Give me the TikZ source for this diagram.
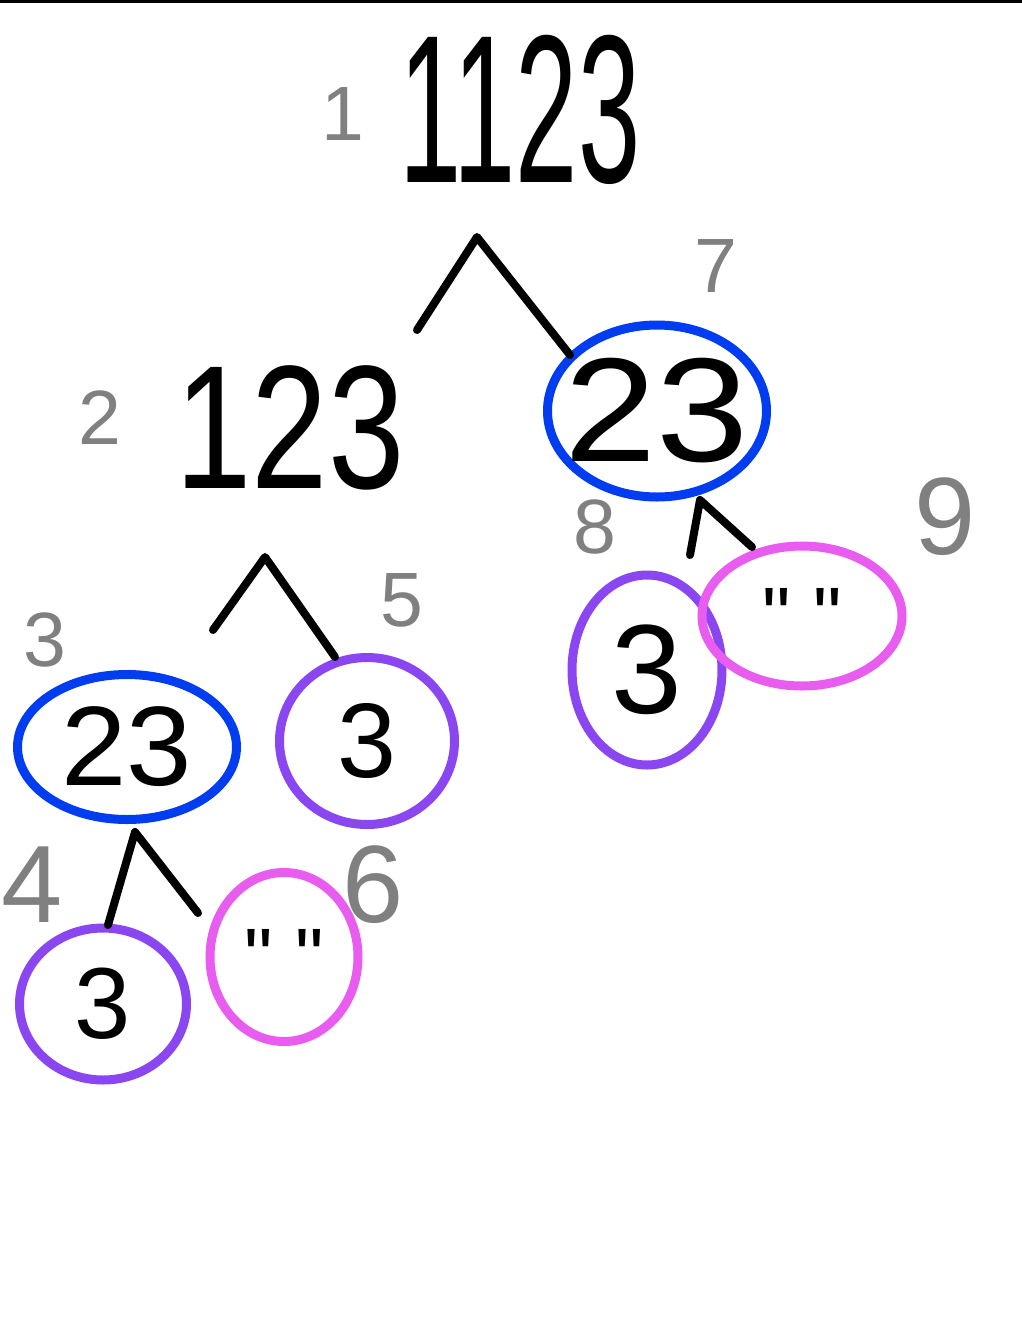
\documentclass[tikz,border=0pt]{standalone}
\usepackage{graphicx}
\usepackage{fontspec}
\setmainfont{Liberation Sans}
\newfontfamily\quotefont{Liberation Sans}
\usetikzlibrary{shapes.geometric}
\definecolor{RingBlue}{HTML}{003CF0}
\definecolor{RingPurple}{HTML}{8A46F0}
\definecolor{RingPink}{HTML}{E85CF0}
\definecolor{StepGray}{HTML}{808080}
\newcommand{\hand}[3]{\makebox[0pt]{\scalebox{#2}[1]{\fontsize{#1}{#1}\selectfont #3}}}
\newcommand{\emptystr}{{\quotefont\char"0022\ \char"0022}}

\begin{document}
\begin{tikzpicture}[x=1pt,y=-1pt,
  branch/.style={line width=8pt,line cap=round,line join=round},
  ring/.style={ellipse,draw,line width=9pt,inner sep=0pt},
  steplbl/.style={text=StepGray,inner sep=0pt,font=\fontsize{77}{77}\selectfont},
  biglbl/.style={steplbl,font=\fontsize{110}{110}\selectfont}]
  \useasboundingbox (0,0) rectangle (1022,1318);
  \coordinate (edge-l) at (0,1.5);
  \coordinate (edge-r) at (1022,1.5);
  \draw[line width=3pt] (edge-l) -- (edge-r);

  % whole string
  \node[inner sep=0pt] (root) at (520,110) {\hand{211}{0.53}{1123}};
  \node[steplbl] (s1) at (343,114) {1};

  % first split
  \node[inner sep=0pt] (left) at (290,428) {\hand{176}{0.78}{123}};
  \node[steplbl] (s2) at (100,418) {2};
  \node[ring,draw=RingBlue,minimum width=219pt,minimum height=172pt] (right) at (657,411) {\hand{148}{1.12}{23}};
  \node[steplbl] (s7) at (716,266) {7};
  \coordinate (root-a) at (477,237);
  \coordinate (root-l) at (417,330);
  \coordinate (root-r) at (570,355);
  \draw[branch] (root-l) -- (root-a) -- (root-r);

  % split of 123
  \node[ring,draw=RingBlue,minimum width=219pt,minimum height=145pt] (left-l) at (127,747) {\hand{113}{1.04}{23}};
  \node[steplbl] (s3) at (45,640) {3};
  \node[ring,draw=RingPurple,minimum width=175pt,minimum height=167pt] (left-r) at (367,741) {\hand{106}{1}{3}};
  \node[steplbl] (s5) at (402,600) {5};
  \coordinate (left-a) at (265,557);
  \coordinate (left-bl) at (213,630);
  \coordinate (left-br) at (335,657);
  \draw[branch] (left-bl) -- (left-a) -- (left-br);

  % split of left 23
  \node[ring,draw=RingPurple,minimum width=167pt,minimum height=152pt] (ll-l) at (103,1004) {\hand{101}{1}{3}};
  \node[biglbl] (s4) at (32,885) {4};
  \node[ring,draw=RingPink,minimum width=148pt,minimum height=169pt] (ll-r) at (284,957) {\hand{80}{1}{\emptystr}};
  \node[biglbl] (s6) at (373,885) {6};
  \coordinate (ll-a) at (135,832);
  \coordinate (ll-bl) at (108,925);
  \coordinate (ll-br) at (198,913);
  \draw[branch] (ll-bl) -- (ll-a) -- (ll-br);

  % split of right 23
  \node[ring,draw=RingPurple,minimum width=150pt,minimum height=190pt] (rr-l) at (647,670) {\hand{127}{1}{3}};
  \node[ring,draw=RingPink,minimum width=200pt,minimum height=140pt] (rr-r) at (802,616) {\hand{80}{1}{\emptystr}};
  \node[steplbl] (s8) at (595,527) {8};
  \node[biglbl] (s9) at (945,517) {9};
  \coordinate (rr-a) at (700,500);
  \coordinate (rr-bl) at (690,555);
  \coordinate (rr-br) at (752,547);
  \draw[branch] (rr-bl) -- (rr-a) -- (rr-br);
\end{tikzpicture}
\end{document}
